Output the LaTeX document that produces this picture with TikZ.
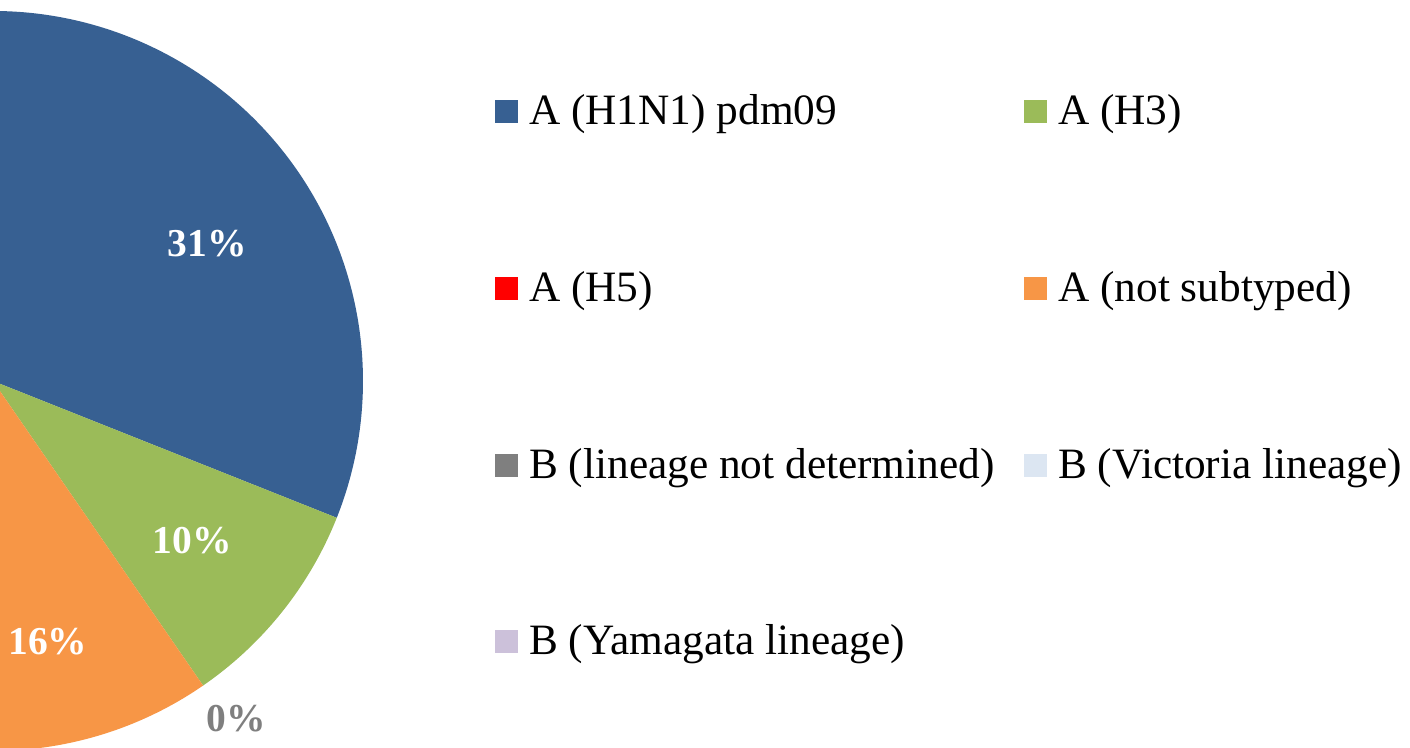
\documentclass[tikz,border=0pt]{standalone}
\usepackage{fontspec}
\setmainfont{Liberation Serif}
\definecolor{sblue}{HTML}{376092}
\definecolor{sgreen}{HTML}{9BBB59}
\definecolor{sred}{HTML}{FF0000}
\definecolor{sorange}{HTML}{F79646}
\definecolor{sgray}{HTML}{7F7F7F}
\definecolor{svict}{HTML}{DCE6F2}
\definecolor{syama}{HTML}{CCC1DA}
\tikzset{
  pct/.style={font=\fontsize{39.5}{39.5}\selectfont\bfseries, text=white, inner sep=0pt},
  legsq/.style={minimum size=23pt, inner sep=0pt, draw=none},
  legtxt/.style={font=\fontsize{43.3}{43.3}\selectfont, anchor=base west, inner sep=0pt, text=black}
}
\begin{document}
\begin{tikzpicture}[x=1pt,y=1pt]
\useasboundingbox (0,0) rectangle (1410,747);
\fill[white] (0,0) rectangle (1410,747);
\begin{scope}
\clip (0,0) rectangle (1410,747);
\coordinate (C) at (-7,366);
\fill[sblue] (C) -- ++(90:370) arc[start angle=90, end angle=-21.7, radius=370] -- cycle;
\fill[sgreen] (C) -- ++(-21.7:370) arc[start angle=-21.7, end angle=-55.4, radius=370] -- cycle;
\fill[sorange] (C) -- ++(-55.4:370) arc[start angle=-55.4, end angle=-113, radius=370] -- cycle;
\end{scope}
\node[pct] (p31) at (207,503) {31\%};
\node[pct] (p10) at (192,206) {10\%};
\node[pct] (p16) at (48,105) {16\%};
\node[pct, text=sgray] (p0) at (236,28) {0\%};
% legend
\node[legsq, fill=sblue] (s1) at (506.5,635.5) {};
\node[legtxt] (t1) at (529,622.5) {A (H1N1) pdm09};
\node[legsq, fill=sgreen] (s2) at (1035.5,635.5) {};
\node[legtxt] (t2) at (1058,622.5) {A (H3)};
\node[legsq, fill=sred] (s3) at (506.5,458.5) {};
\node[legtxt] (t3) at (529,445.5) {A (H5)};
\node[legsq, fill=sorange] (s4) at (1035.5,458.5) {};
\node[legtxt] (t4) at (1058,445.5) {A (not subtyped)};
\node[legsq, fill=sgray] (s5) at (506.5,281.5) {};
\node[legtxt] (t5) at (529,268.5) {B (lineage not determined)};
\node[legsq, fill=svict] (s6) at (1035.5,281.5) {};
\node[legtxt] (t6) at (1058,268.5) {B (Victoria lineage)};
\node[legsq, fill=syama] (s7) at (506.5,105.5) {};
\node[legtxt] (t7) at (529,92.5) {B (Yamagata lineage)};
\end{tikzpicture}
\end{document}
